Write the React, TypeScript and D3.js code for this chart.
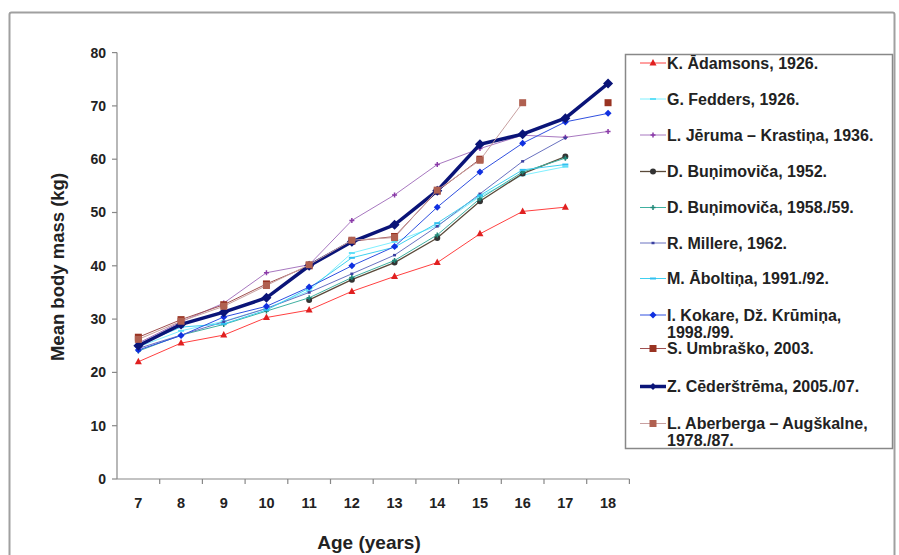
import React from "react";
import * as d3 from "d3";

// ages on the x axis
const ages = [7, 8, 9, 10, 11, 12, 13, 14, 15, 16, 17, 18];
const yTicks = [0, 10, 20, 30, 40, 50, 60, 70, 80];

// mean body mass (kg) per age, null = no data
const adamsons = [22, 25.5, 27, 30.3, 31.7, 35.2, 38, 40.6, 46, 50.2, 51, null];
const fedders = [24.8, 27.8, 29.6, 32, 35.3, 42.4, 44.5, 47.5, 53, 57, 58.6, null];
const jeruma = [25.5, 29.5, 33, 38.7, 40.2, 48.5, 53.3, 59, 62, 64.5, 64.1, 65.2];
const bunimovica52 = [null, null, null, null, 33.6, 37.4, 40.6, 45.2, 52.1, 57.3, 60.5, null];
const bunimovica58 = [24, 27, 29, 31.5, 34, 37.8, 41, 45.8, 52.6, 57.6, 60.2, null];
const millere = [24.5, 27, 29.5, 32, 35, 38.5, 42, 47.4, 53.5, 59.6, 64, null];
const aboltina = [25.2, 28.5, 29.1, 31.7, 35.8, 41.5, 43.5, 48, 53.2, 58, 59, null];
const kokare = [24.2, 26.9, 30.4, 32.4, 36, 40, 43.6, 51, 57.6, 63, 67, 68.6];
const umbrasko = [26.6, 29.9, 32.7, 36.6, 40, 44.6, 45.5, 54, 60, null, null, 70.6];
const cederstrema = [25, 29, 31.3, 34, 40, 44.5, 47.7, 54.1, 62.8, 64.7, 67.7, 74.2];
const aberberga = [26.2, 29.6, 32.4, 36.3, 40.2, 44.8, 45.3, 54.2, 59.8, 70.6, null, null];

type Marker = "triangle" | "dash" | "plus" | "circle" | "diamond" | "square" | "smalldash";

const series: {
  name: string[];
  values: (number | null)[];
  color: string;
  markerColor: string;
  marker: Marker;
  width: number;
  size: number;
}[] = [
  { name: ["K. Ādamsons, 1926."], values: adamsons, color: "#ff4040", markerColor: "#e02020", marker: "triangle", width: 1, size: 6 },
  { name: ["G. Fedders, 1926."], values: fedders, color: "#7ff0ff", markerColor: "#60e0f8", marker: "dash", width: 1, size: 6 },
  { name: ["L. Jēruma – Krastiņa, 1936."], values: jeruma, color: "#a878c0", markerColor: "#8a3aa8", marker: "plus", width: 1, size: 5 },
  { name: ["D. Buņimoviča, 1952."], values: bunimovica52, color: "#5a4a3a", markerColor: "#333", marker: "circle", width: 1.3, size: 6 },
  { name: ["D. Buņimoviča, 1958./59."], values: bunimovica58, color: "#40b0a0", markerColor: "#208878", marker: "plus", width: 1, size: 5 },
  { name: ["R. Millere,  1962."], values: millere, color: "#6a72c0", markerColor: "#3a40a0", marker: "smalldash", width: 1, size: 5 },
  { name: ["M. Āboltiņa, 1991./92."], values: aboltina, color: "#40d0f0", markerColor: "#30c0f0", marker: "dash", width: 1, size: 6 },
  { name: ["I. Kokare, Dž. Krūmiņa,", "1998./99."], values: kokare, color: "#3050e0", markerColor: "#1030e0", marker: "diamond", width: 1, size: 7 },
  { name: ["S. Umbraško, 2003."], values: umbrasko, color: "#a05050", markerColor: "#993322", marker: "square", width: 1, size: 7 },
  { name: ["Z. Cēderštrēma, 2005./07."], values: cederstrema, color: "#0a1478", markerColor: "#0a1478", marker: "diamond", width: 3.5, size: 10 },
  { name: ["L. Aberberga – Augškalne,", "1978./87."], values: aberberga, color: "#c8a0a0", markerColor: "#b06050", marker: "square", width: 1, size: 7 },
];

function MarkerShape({ type, x, y, size, color }: { type: Marker; x: number; y: number; size: number; color: string }) {
  const h = size / 2;
  if (type === "triangle")
    return <path d={`M${x},${y - h - 1}L${x + h + 0.5},${y + h - 0.5}L${x - h - 0.5},${y + h - 0.5}Z`} fill={color} />;
  if (type === "dash") return <line x1={x - h} x2={x + h} y1={y} y2={y} stroke={color} strokeWidth={2} />;
  if (type === "smalldash") return <line x1={x - h + 1} x2={x + h - 1} y1={y} y2={y} stroke={color} strokeWidth={2.5} />;
  if (type === "plus")
    return <path d={`M${x - h},${y}H${x + h}M${x},${y - h}V${y + h}`} stroke={color} strokeWidth={1.5} />;
  if (type === "circle") return <circle cx={x} cy={y} r={h} fill={color} />;
  if (type === "diamond") return <path d={`M${x},${y - h}L${x + h},${y}L${x},${y + h}L${x - h},${y}Z`} fill={color} />;
  return <rect x={x - h} y={y - h} width={size} height={size} fill={color} />;
}

export default function App() {
  const width = 899;
  const height = 555;
  const left = 117;
  const bottom = 479;
  const top = 52.6;

  const x = d3.scaleBand<number>().domain(ages).range([left, left + 12 * 42.7]).paddingInner(0).paddingOuter(0);
  const y = d3.scaleLinear().domain([0, 80]).range([bottom, top]);
  const cx = (a: number) => (x(a) ?? 0) + x.bandwidth() / 2;

  const line = d3
    .line<number | null>()
    .defined((d) => d !== null)
    .x((_, i) => cx(ages[i]))
    .y((d) => y(d as number));

  const font = "'Liberation Sans', Arial, sans-serif";
  const legendRows = [63, 99, 135, 171.5, 207.5, 243, 278.5, 315, 348.5, 386.5, 423.5];

  return (
    <svg width={width} height={height} style={{ position: "absolute", left: 0, top: 0 }} fontFamily={font}>
      <rect x={0} y={0} width={width} height={height} fill="#fff" />
      <rect x={9.5} y={12.5} width={885} height={580} fill="none" stroke="#a0a0a0" strokeWidth={2} rx={2} />

      {/* y axis */}
      <line x1={left} x2={left} y1={top} y2={bottom} stroke="#888" strokeWidth={1.2} />
      {yTicks.map((t) => (
        <g key={t}>
          <line x1={left - 5} x2={left} y1={y(t)} y2={y(t)} stroke="#888" strokeWidth={1.2} />
          <text x={left - 11} y={y(t)} dy="0.35em" textAnchor="end" fontSize={14} fontWeight="bold" fill="#222">
            {t}
          </text>
        </g>
      ))}

      {/* x axis */}
      <line x1={left} x2={left + 12 * 42.7} y1={bottom} y2={bottom} stroke="#888" strokeWidth={1.2} />
      {ages.map((a) => (
        <g key={a}>
          <line x1={(x(a) ?? 0) + x.bandwidth()} x2={(x(a) ?? 0) + x.bandwidth()} y1={bottom} y2={bottom + 5} stroke="#888" strokeWidth={1.2} />
          <text x={cx(a)} y={bottom + 29} textAnchor="middle" fontSize={14.5} fontWeight="bold" fill="#222">
            {a}
          </text>
        </g>
      ))}

      <text x={369} y={549} textAnchor="middle" fontSize={19} fontWeight="bold" fill="#222">
        Age (years)
      </text>
      <text transform="translate(64,267) rotate(-90)" textAnchor="middle" fontSize={18.5} fontWeight="bold" fill="#222">
        Mean body mass (kg)
      </text>

      {/* series */}
      {series.map((s, si) => (
        <g key={si}>
          <path d={line(s.values) ?? ""} fill="none" stroke={s.color} strokeWidth={s.width} />
          {s.values.map((v, i) =>
            v === null ? null : (
              <MarkerShape key={i} type={s.marker} x={cx(ages[i])} y={y(v)} size={s.size} color={s.markerColor} />
            )
          )}
        </g>
      ))}

      {/* legend */}
      <rect x={625.5} y={54.5} width={267} height={394} fill="#fff" stroke="#888" strokeWidth={1.5} />
      {series.map((s, i) => {
        const ly = legendRows[i];
        return (
          <g key={i}>
            <line x1={640} x2={666} y1={ly} y2={ly} stroke={s.color} strokeWidth={s.width} />
            <MarkerShape type={s.marker} x={653} y={ly} size={Math.min(s.size, 7)} color={s.markerColor} />
            {s.name.map((n, j) => (
              <text key={j} x={667} y={ly + j * 17} dy="0.35em" fontSize={16} fontWeight="bold" fill="#222">
                {n}
              </text>
            ))}
          </g>
        );
      })}
    </svg>
  );
}
